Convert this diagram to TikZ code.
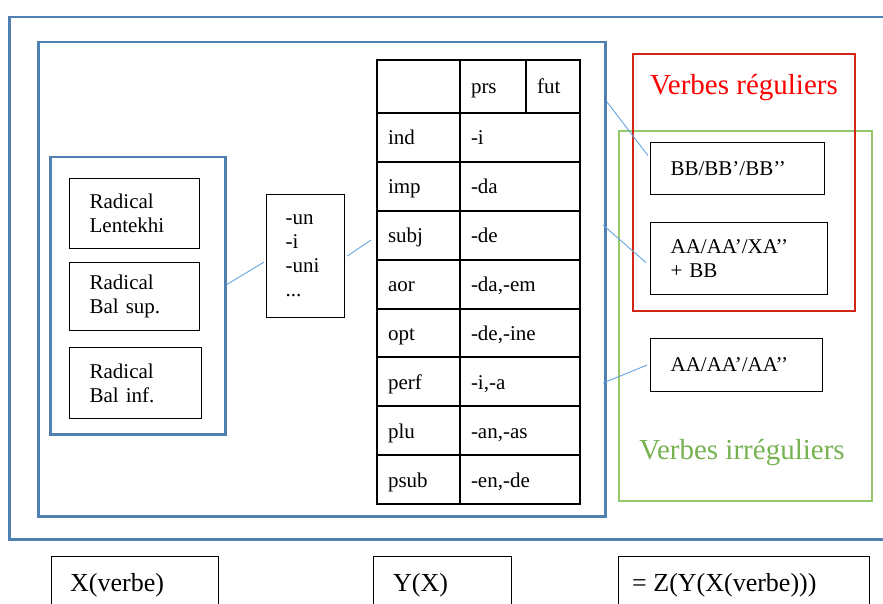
\documentclass[tikz,border=0pt]{standalone}
\usepackage{fontspec}
\setmainfont{Liberation Serif}
\usetikzlibrary{calc}
\definecolor{bluebox}{RGB}{80,128,176}
\definecolor{blueline}{RGB}{100,165,225}
\definecolor{redbox}{RGB}{210,38,22}
\definecolor{redtext}{RGB}{255,0,0}
\definecolor{greenbox}{RGB}{150,200,105}
\definecolor{greentext}{RGB}{118,178,80}
\tikzset{
  bluefr/.style={draw=bluebox, line width=2.5pt, inner sep=0pt, anchor=north west},
  blk/.style={draw=black, line width=1.2pt, inner ysep=0pt, anchor=north west, align=left,
    font=\fontsize{21}{24}\selectfont},
  cell/.style={draw=black, line width=2pt, inner ysep=0pt, inner xsep=11pt, anchor=north west,
    align=left, font=\fontsize{21}{24}\selectfont, text height=15pt, text depth=0pt},
  conn/.style={draw=blueline, line width=0.9pt},
  bigtxt/.style={font=\fontsize{29}{32}\selectfont, inner sep=0pt},
  bottom/.style={draw=black, line width=1pt, inner sep=0pt, anchor=north west}
}
\begin{document}
\begin{tikzpicture}[x=1pt,y=-1pt]
\useasboundingbox (0,0) rectangle (883,604);
\clip (0,0) rectangle (883,604);
% outer frames
\node[bluefr, minimum width=890pt, minimum height=522pt] (outer) at (8,16) {};
\node[bluefr, minimum width=567pt, minimum height=474pt] (inner) at (37,41) {};
\node[bluefr, minimum width=175pt, minimum height=277pt] (lb) at (49,156) {};
% radical boxes
\node[blk, minimum width=130pt, minimum height=70pt, inner xsep=20pt, text width=90pt] (rl) at (69,178) {Radical\\Lentekhi};
\node[blk, minimum width=130pt, minimum height=68pt, inner xsep=20pt, text width=90pt] (rs) at (69,262) {Radical\\Bal sup.};
\node[blk, minimum width=132pt, minimum height=71pt, inner xsep=20pt, text width=92pt] (ri) at (69,347) {Radical\\Bal inf.};
% suffix box
\node[blk, minimum width=78pt, minimum height=123pt, inner xsep=19pt, text width=40pt] (sfx) at (266,194) {-un\\-i\\-uni\\...};
% table
\node[cell, minimum width=83pt, minimum height=53pt, text width=61pt] (h0) at (376,59) {};
\node[cell, minimum width=66pt, minimum height=53pt, text width=44pt] (hprs) at (459,59) {prs};
\node[cell, minimum width=54pt, minimum height=53pt, text width=32pt] (hfut) at (525,59) {fut};
\foreach \lab/\val/\i in {ind/-i/0, imp/-da/1, subj/-de/2, aor/{-da,-em}/3, opt/{-de,-ine}/4, perf/{-i,-a}/5, plu/{-an,-as}/6, psub/{-en,-de}/7}{
  \node[cell, minimum width=83pt, minimum height=48.875pt, text width=61pt] (\lab) at (376,112+48.875*\i) {\lab};
  \node[cell, minimum width=120pt, minimum height=48.875pt, text width=98pt] (\lab v) at (459,112+48.875*\i) {\val};
}
% right frames
\node[draw=greenbox, line width=2pt, inner sep=0pt, anchor=north west, minimum width=253pt, minimum height=370pt] (irr) at (618,130) {};
\node[draw=redbox, line width=2pt, inner sep=0pt, anchor=north west, minimum width=222pt, minimum height=257pt] (reg) at (632,53) {};
\node[bigtxt, text=redtext] (regt) at (744,88) {Verbes réguliers};
\node[bigtxt, text=greentext] (irrt) at (742,453) {Verbes irréguliers};
% right boxes
\node[blk, minimum width=174pt, minimum height=52pt, inner xsep=20pt, text width=134pt] (bb) at (650,142) {BB/BB’/BB’’};
\node[blk, minimum width=177pt, minimum height=72pt, inner xsep=20pt, text width=137pt] (aax) at (650,222) {AA/AA’/XA’’\\+ BB};
\node[blk, minimum width=172pt, minimum height=53pt, inner xsep=20pt, text width=132pt] (aaa) at (650,338) {AA/AA’/AA’’};
% connectors
\coordinate (c1) at (371,240);
\coordinate (c2) at (607,102);
\coordinate (c3) at (603,225);
\coordinate (c4) at (603,383);
\draw[conn] ($(lb.east)+(0,-11)$) -- ($(sfx.west)+(-2,6)$);
\draw[conn] ($(sfx.east)+(2,0)$) -- (c1);
\draw[conn] (c2) -- ($(bb.west)+(-2,-13)$);
\draw[conn] (c3) -- ($(aax.west)+(-4,4)$);
\draw[conn] (c4) -- ($(aaa.west)+(-3,0)$);
% bottom boxes
\node[bottom, minimum width=167pt, minimum height=70pt] (bx) at (51,556) {};
\node[bottom, minimum width=138pt, minimum height=70pt] (by) at (373,556) {};
\node[bottom, minimum width=251pt, minimum height=70pt] (bz) at (618,556) {};
\node[anchor=base west, inner sep=0pt, font=\fontsize{26}{30}\selectfont] (tx) at (70,591) {X(verbe)};
\node[anchor=base west, inner sep=0pt, font=\fontsize{26}{30}\selectfont] (ty) at (393,591) {Y(X)};
\node[anchor=base west, inner sep=0pt, font=\fontsize{26}{30}\selectfont] (tz) at (632,591) {= Z(Y(X(verbe)))};
\end{tikzpicture}
\end{document}
